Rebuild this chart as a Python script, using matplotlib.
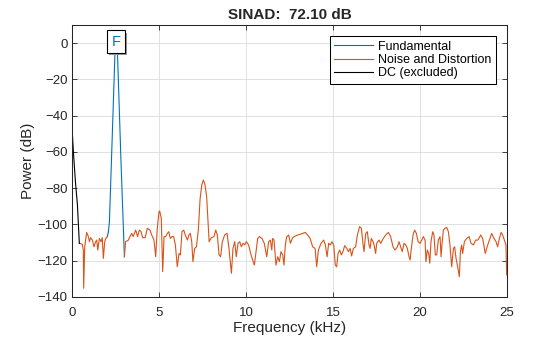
import matplotlib
matplotlib.use("Agg")
import matplotlib.pyplot as plt
import matplotlib.patheffects as pe
import numpy as np

plt.rcParams['font.family'] = ['Liberation Sans', 'DejaVu Sans']

title_text = "SINAD:  72.10 dB"
legend_labels = ["Fundamental", "Noise and Distortion", "DC (excluded)"]

# DC bins (excluded from the SINAD estimate)
dc_freq = [0.0, 0.10, 0.20, 0.31, 0.42]
dc_db = [-47.0, -63.0, -77.0, -89.0, -110.4]

# fundamental lobe
fund_freq = [2.03, 2.09, 2.15, 2.31, 2.47, 2.53, 2.61, 2.81, 3.01]
fund_db = [-106.7, -104.0, -98.5, -52.0, -4.8, -3.9, -4.8, -64.0, -117.8]

# noise + distortion, below the fundamental
noise_lo_freq = [0.42, 0.59, 0.65, 0.67, 0.73, 0.84, 0.94, 1.00, 1.07, 1.17,
                 1.26, 1.36, 1.42, 1.48, 1.57, 1.67, 1.74, 1.80, 1.88, 1.94, 2.03]
noise_lo_db = [-110.4, -110.9, -114.1, -135.2, -112.3, -104.4, -106.7, -109.5, -107.3, -108.6,
               -112.3, -109.5, -108.6, -114.1, -107.7, -109.5, -107.3, -118.7, -109.5, -107.7, -106.7]

# noise + distortion, above the fundamental
noise_hi_freq = [
    3.01, 3.08, 3.24, 3.33, 3.43, 3.51, 3.66, 3.77, 3.87, 3.97,
    4.06, 4.20, 4.33, 4.48, 4.58, 4.71, 4.81, 4.90, 5.00, 5.04,
    5.13, 5.21, 5.29, 5.38, 5.48, 5.56, 5.65, 5.75, 5.84, 5.94,
    6.05, 6.15, 6.23, 6.32, 6.42, 6.51, 6.63, 6.72, 6.80, 6.88,
    6.95, 7.05, 7.15, 7.26, 7.36, 7.46, 7.55, 7.64, 7.74, 7.84,
    7.88, 8.01, 8.16, 8.26, 8.35, 8.45, 8.54, 8.64, 8.77, 8.91,
    9.02, 9.16, 9.25, 9.35, 9.44, 9.54, 9.64, 9.73, 9.83, 9.92,
    10.02, 10.15, 10.29, 10.48, 10.67, 10.77, 10.92, 11.05, 11.19, 11.30,
    11.40, 11.48, 11.53, 11.61, 11.72, 11.82, 11.92, 12.01, 12.11, 12.18,
    12.26, 12.34, 12.45, 12.55, 12.68, 12.87, 13.07, 13.26, 13.41, 13.54,
    13.68, 13.83, 13.97, 14.06, 14.16, 14.31, 14.46, 14.56, 14.66, 14.75,
    14.85, 14.94, 15.04, 15.13, 15.21, 15.29, 15.38, 15.48, 15.57, 15.67,
    15.79, 15.88, 15.98, 16.07, 16.17, 16.30, 16.40, 16.53, 16.63, 16.72,
    16.78, 16.88, 16.97, 17.07, 17.13, 17.20, 17.30, 17.36, 17.45, 17.51,
    17.64, 17.74, 17.89, 18.03, 18.18, 18.31, 18.45, 18.56, 18.70, 18.79,
    18.89, 18.98, 19.08, 19.18, 19.27, 19.37, 19.43, 19.50, 19.60, 19.69,
    19.79, 19.89, 20.00, 20.10, 20.19, 20.29, 20.34, 20.42, 20.50, 20.56,
    20.63, 20.73, 20.80, 20.88, 20.96, 21.05, 21.15, 21.21, 21.26, 21.34,
    21.44, 21.53, 21.63, 21.72, 21.82, 21.92, 21.99, 22.07, 22.16, 22.26,
    22.32, 22.39, 22.45, 22.55, 22.68, 22.82, 22.93, 23.07, 23.20, 23.33,
    23.49, 23.60, 23.75, 23.89, 24.02, 24.12, 24.25, 24.37, 24.46, 24.56,
    24.66, 24.75, 24.85, 24.94, 24.98, 25.00,
]
noise_hi_db = [
    -117.8, -109.5, -108.6, -106.7, -104.9, -106.7, -103.1, -106.7, -103.1, -104.0,
    -107.3, -107.3, -102.1, -103.1, -105.8, -108.6, -117.8, -102.1, -92.9, -92.6,
    -96.6, -126.0, -106.7, -106.7, -104.9, -104.0, -107.7, -106.7, -106.7, -111.3,
    -123.3, -116.0, -116.8, -104.0, -103.1, -105.8, -108.6, -105.8, -104.9, -109.5,
    -120.5, -113.2, -112.3, -103.0, -86.0, -78.0, -75.5, -78.0, -85.0, -103.0,
    -109.5, -107.3, -106.7, -103.1, -105.8, -116.8, -117.8, -109.5, -105.8, -104.9,
    -113.2, -126.9, -113.2, -109.5, -117.8, -110.4, -109.5, -112.3, -110.4, -111.3,
    -109.5, -111.3, -116.8, -122.4, -107.7, -106.7, -107.7, -110.4, -117.8, -109.5,
    -108.6, -114.1, -107.7, -108.6, -122.4, -117.8, -120.5, -115.0, -116.8, -122.4,
    -111.3, -106.7, -105.8, -110.4, -107.3, -106.2, -105.5, -104.9, -104.4, -105.8,
    -107.7, -112.3, -113.2, -123.3, -114.1, -110.4, -108.6, -111.3, -117.8, -110.4,
    -111.3, -109.5, -111.3, -122.4, -123.3, -116.0, -114.1, -116.8, -115.0, -111.7,
    -113.2, -115.0, -113.2, -117.4, -113.2, -112.3, -105.8, -101.2, -102.1, -110.4,
    -115.0, -104.9, -104.0, -111.3, -113.2, -107.7, -109.5, -111.3, -116.0, -110.4,
    -108.6, -110.4, -107.7, -105.8, -104.4, -106.7, -112.3, -114.1, -112.3, -109.5,
    -112.3, -115.0, -110.4, -111.3, -113.2, -117.8, -119.6, -113.2, -105.8, -103.1,
    -104.9, -109.5, -110.4, -108.6, -106.7, -108.6, -120.5, -114.1, -116.0, -121.4,
    -109.5, -104.0, -105.8, -116.8, -116.8, -108.6, -106.7, -117.8, -111.3, -103.1,
    -102.1, -101.6, -104.0, -111.3, -123.3, -113.2, -112.3, -118.7, -123.3, -128.8,
    -115.0, -111.3, -116.0, -109.5, -107.7, -106.7, -110.4, -111.3, -108.6, -108.6,
    -105.8, -107.7, -116.0, -111.3, -107.7, -104.9, -107.7, -109.5, -112.3, -107.7,
    -104.4, -105.8, -108.6, -111.3, -127.9, -128.0,
]

blue = '#0072BD'
orange = '#D95319'

fig = plt.figure(figsize=(5.6, 3.37), dpi=100)
ax = fig.add_axes([0.1286, 0.1187, 0.7768, 0.8071])

h_fund, = ax.plot(fund_freq, fund_db, color=blue, lw=0.8)
h_noise, = ax.plot(noise_lo_freq, noise_lo_db, color=orange, lw=0.8)
ax.plot(noise_hi_freq, noise_hi_db, color=orange, lw=0.8)
h_dc, = ax.plot(dc_freq, dc_db, color='black', lw=0.8)

# fundamental marker, boxed with a drop shadow
pk = int(np.argmax(fund_db))
mark = ax.annotate('F', xy=(fund_freq[pk], fund_db[pk]), xytext=(0, 1), textcoords='offset points',
                   ha='center', va='bottom', fontsize=10.5, color=blue,
                   bbox=dict(boxstyle='square,pad=0.3', fc='white', ec='black', lw=0.8))
mark.get_bbox_patch().set_path_effects([
    pe.SimplePatchShadow(offset=(1.5, -1.5), shadow_rgbFace='#9a9a9a', alpha=1.0),
    pe.Normal()])

ax.set_xlim(0, 25)
ax.set_ylim(-140, 10)
ax.set_xticks(np.arange(0, 26, 5))
ax.set_yticks(np.arange(-140, 1, 20))
ax.grid(True, color='#dcdcdc', lw=0.6)
ax.set_axisbelow(True)
ax.tick_params(direction='in', top=True, right=True, length=3.5, width=0.6,
               labelsize=9.5, colors='#262626', pad=3)
ax.tick_params(axis='x', pad=7)
for s in ax.spines.values():
    s.set_linewidth(0.75)
    s.set_color('#262626')

ax.set_xlabel('Frequency (kHz)', fontsize=11, color='#262626', labelpad=2)
ax.set_ylabel('Power (dB)', fontsize=11, color='#262626', labelpad=2)
ax.set_title(title_text, fontsize=11, fontweight='bold', color='#262626', pad=4)

leg = ax.legend([h_fund, h_noise, h_dc], legend_labels, loc='upper right',
                fontsize=9, fancybox=False, framealpha=1, edgecolor='black',
                borderpad=0.35, labelspacing=0.1, handlelength=3.1, handletextpad=0.4,
                borderaxespad=0.9)
leg.get_frame().set_linewidth(0.75)

fig.savefig('out.png', dpi=100)
